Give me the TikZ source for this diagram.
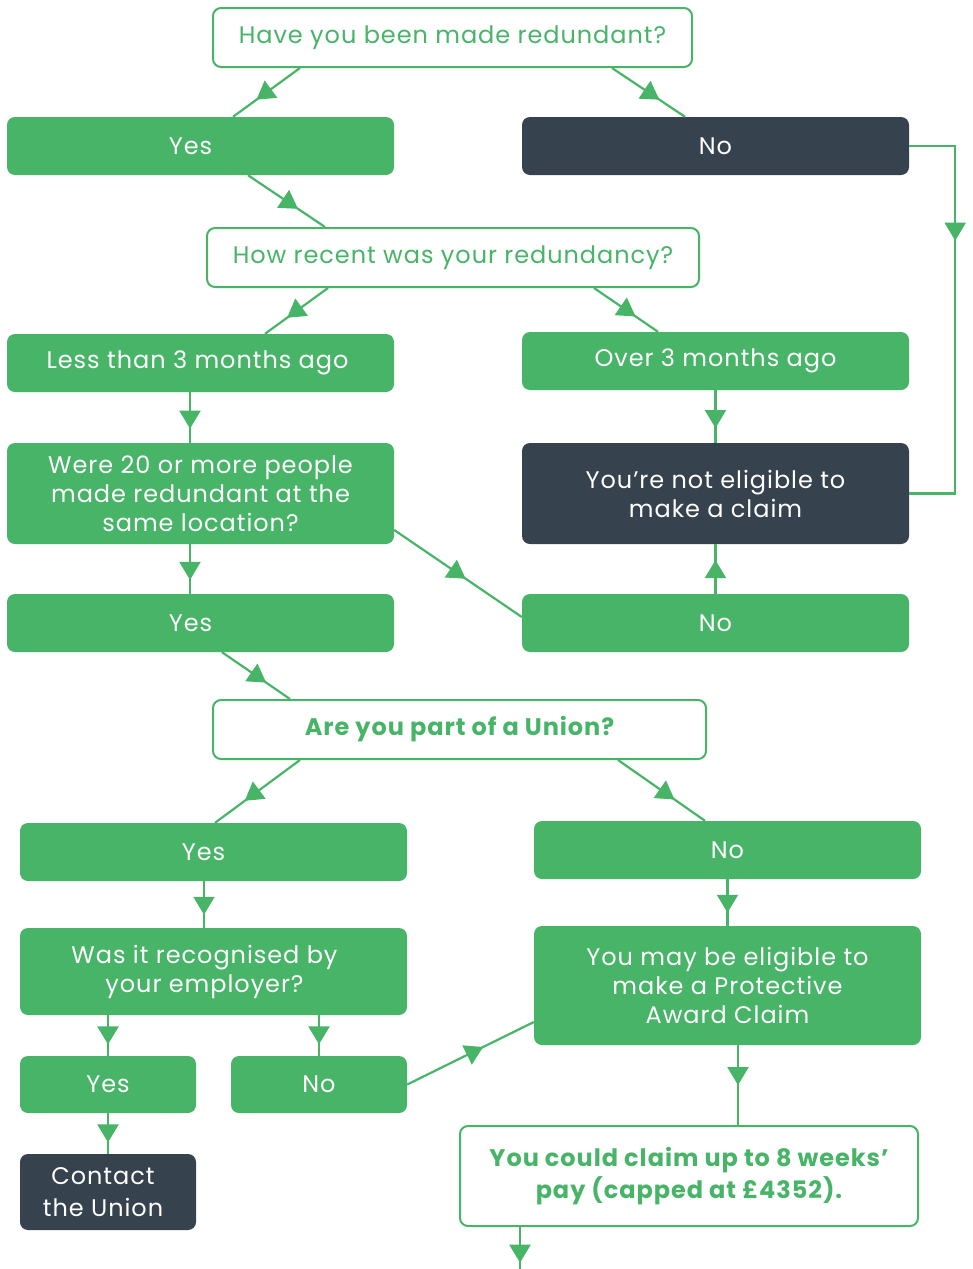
\documentclass[tikz,border=0pt]{standalone}
\usepackage{fontspec}
\setmainfont[LetterSpace=4]{Poppins}
\usetikzlibrary{arrows.meta, decorations.markings}
\definecolor{mygreen}{HTML}{47B468}
\definecolor{mydark}{HTML}{37424F}

\begin{document}
\begin{tikzpicture}[
    x=1pt, y=-1pt,
    box/.style = {rectangle, rounded corners=8pt, inner sep=0pt,
      align=center, minimum width=387pt, minimum height=58pt,
      font=\fontsize{24}{29}\selectfont},
    gbox/.style = {box, fill=mygreen, text=white},
    dbox/.style = {box, fill=mydark, text=white},
    wbox/.style = {box, draw=mygreen, line width=2pt, fill=white,
      text=mygreen, minimum height=59pt},
    flow/.style = {draw=mygreen, line width=2.2pt, postaction={decorate},
      decoration={markings, mark=at position #1 with
        {\arrow{Triangle[length=18pt, width=21pt]}}}},
    flow/.default = 0.65,
  ]
\useasboundingbox (0,0) rectangle (972,1269);

% first question
\node[wbox, minimum width=479pt] (q1) at (452.5,37.5) {Have you been made redundant?};
\node[gbox] (yes1) at (200.5,146) {\hspace*{-20pt}Yes};
\node[dbox] (no1) at (715.5,146) {No};

% second question
\node[wbox, minimum width=492pt] (q2) at (453,257.5) {How recent was your redundancy?};
\node[gbox] (less) at (200.5,363) {\hspace*{-6pt}Less than 3 months ago};
\node[gbox] (over) at (715.5,361) {Over 3 months ago};
\node[gbox, minimum height=101pt] (were) at (200.5,493.5)
    {Were 20 or more people\\made redundant at the\\same location?};
\node[dbox, minimum height=101pt] (notel) at (715.5,493.5)
    {You’re not eligible to\\make a claim};
\node[gbox] (yes2) at (200.5,623) {\hspace*{-20pt}Yes};
\node[gbox] (no2) at (715.5,623) {No};

% union
\node[wbox, minimum width=493pt, font=\fontsize{24}{29}\selectfont\bfseries] (q3) at (459.5,729.5)
    {Are you part of a Union?};
\node[gbox] (yes3) at (213.5,852) {\hspace*{-20pt}Yes};
\node[gbox] (no3) at (727.5,850) {No};
\node[gbox, minimum height=87pt] (recog) at (213.5,971.5)
    {\hspace*{-18pt}Was it recognised by\\\hspace*{-18pt}your employer?};
\node[gbox, minimum height=119pt] (prot) at (727.5,985.5)
    {You may be eligible to\\make a Protective\\Award Claim};
\node[gbox, minimum width=176pt, minimum height=57pt] (yes4) at (108,1084.5) {Yes};
\node[gbox, minimum width=176pt, minimum height=57pt] (no4) at (319,1084.5) {No};
\node[dbox, minimum width=176pt, minimum height=76pt, font=\fontsize{24}{32}\selectfont]
    (contact) at (108,1192) {\hspace*{-10pt}Contact\\\hspace*{-10pt}the Union};
\node[wbox, minimum width=458pt, minimum height=100pt,
      font=\fontsize{24}{32}\selectfont\bfseries] (claim) at (689,1176)
    {You could claim up to 8 weeks’\\pay (capped at £4352).};
\coordinate (out) at (520,1269);

% connectors
\draw[flow] ([xshift=-152.5pt]q1.south) -- ([xshift=32.5pt]yes1.north);
\draw[flow] ([xshift=159.5pt]q1.south) -- ([xshift=-30.5pt]no1.north);
\draw[flow] ([xshift=47.5pt]yes1.south) -- ([xshift=-128pt]q2.north);
\draw[flow=0.32] (no1.east) -- ++(46,0) |- (notel.east);
\draw[flow] ([xshift=-125pt]q2.south) -- ([xshift=64.5pt]less.north);
\draw[flow] ([xshift=141pt]q2.south) -- ([xshift=-57.5pt]over.north);
\draw[flow=0.72] ([xshift=-10.5pt]less.south) -- ([xshift=-10.5pt]were.north);
\draw[flow=0.72] (over.south) -- (notel.north);
\draw[flow=0.72] ([xshift=-10.5pt]were.south) -- ([xshift=-10.5pt]yes2.north);
\draw[flow=0.56] ([yshift=-36.5pt]were.east) -- ([yshift=6pt]no2.west);
\draw[flow=0.68] (no2.north) -- (notel.south);
\draw[flow] ([xshift=21.5pt]yes2.south) -- ([xshift=-169.5pt]q3.north);
\draw[flow] ([xshift=-159.5pt]q3.south) -- ([xshift=1.5pt]yes3.north);
\draw[flow] ([xshift=158.5pt]q3.south) -- ([xshift=-22.5pt]no3.north);
\draw[flow=0.72] ([xshift=-9.5pt]yes3.south) -- ([xshift=-9.5pt]recog.north);
\draw[flow=0.72] (no3.south) -- (prot.north);
\draw[flow=0.72] ([xshift=-105.5pt]recog.south) -- (yes4.north);
\draw[flow=0.72] ([xshift=105.5pt]recog.south) -- (no4.north);
\draw[flow=0.6] (no4.east) -- ([yshift=-36.5pt]prot.west);
\draw[flow=0.72] (yes4.south) -- (contact.north);
\draw[flow=0.5] ([xshift=10.5pt]prot.south) -- ([xshift=49pt]claim.north);
\draw[flow=0.85] ([xshift=-169pt]claim.south) -- (out);
\end{tikzpicture}
\end{document}
